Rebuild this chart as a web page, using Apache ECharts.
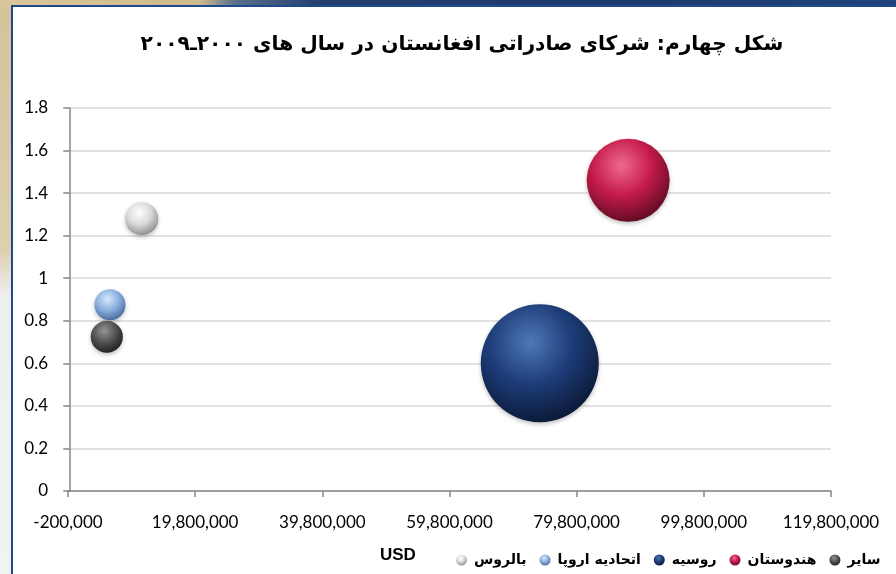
<!DOCTYPE html>
<html>
<head>
<meta charset="utf-8">
<script src="https://cdn.jsdelivr.net/npm/echarts@6/dist/echarts.min.js"></script>
<style>
  html, body { margin: 0; padding: 0; width: 896px; height: 574px; overflow: hidden; }
  body { position: relative; background: linear-gradient(to bottom, #d4c39b 0px, #ddd0ae 250px, #eeeeee 295px, #f2f2f2 100%); }
  #strip { position: absolute; left: 0; top: 0; width: 896px; height: 6px;
    background: linear-gradient(to right, #d9c79b 0px, #cdb98c 200px, #5a6f8c 235px, #233f70 320px, #1d3a6c 600px, #22427a 100%); }
  #box { position: absolute; left: 11px; top: 5px; width: 885px; height: 569px; background: #ffffff;
    border-left: 2px solid #1f4a8a; border-top: 2px solid #1f4a8a; box-sizing: border-box; }
  #chart { position: absolute; left: 0; top: 0; width: 896px; height: 574px; }
</style>
</head>
<body>
<div id="strip"></div>
<div id="box"></div>
<div id="chart"></div>
<script>
// ---- data ----
const titleText = 'شکل چهارم: شرکای صادراتی افغانستان در سال های ۲۰۰۰ـ۲۰۰۹';
const seriesNames = ['بالروس', 'اتحادیه اروپا', 'روسیه', 'هندوستان', 'سایر'];
const exportUSD = [11400000, 6400000, 74000000, 87900000, 5900000];
const yValues = [1.28, 0.875, 0.60, 1.46, 0.725];
const bubbleSizes = [7.8, 6.9, 100, 49.5, 7.4];
const xAxisTitle = 'USD';
const xMin = -200000, xMax = 119800000, xStep = 20000000;
const yMin = 0, yMax = 1.8, yStep = 0.2;

const palettes = [
  ['#ffffff', '#dadada', '#8a8a8a'],
  ['#d6e8fb', '#8cb2e0', '#44679a'],
  ['#4f78b8', '#1d3c78', '#0a1732'],
  ['#ee6a8d', '#c51b4b', '#5a0a20'],
  ['#959595', '#525252', '#1c1c1c']
];
function ball(p) {
  return new echarts.graphic.RadialGradient(0.42, 0.32, 0.72, [
    { offset: 0, color: p[0] },
    { offset: 0.5, color: p[1] },
    { offset: 1, color: p[2] }
  ]);
}
const MAXD = 118;

const chart = echarts.init(document.getElementById('chart'), null, { renderer: 'canvas' });
const arabicFont = "'DejaVu Sans', sans-serif";
const numFont = "Lato, 'Open Sans', sans-serif";

const series = seriesNames.map((name, i) => ({
  name: name,
  type: 'scatter',
  data: [[exportUSD[i], yValues[i], bubbleSizes[i]]],
  symbolSize: v => MAXD * Math.sqrt(v[2] / 100),
  itemStyle: { color: ball(palettes[i]), opacity: 1,
    shadowColor: 'rgba(0,0,0,0.25)', shadowBlur: 4, shadowOffsetY: 2 },
  z: i === 2 ? 2 : 3
}));

chart.setOption({
  animation: false,
  backgroundColor: 'transparent',
  title: {
    text: titleText,
    left: 457, textAlign: 'center',
    top: 30,
    textStyle: { fontFamily: arabicFont, fontWeight: 'bold', fontSize: 20.2, color: '#000' }
  },
  grid: { left: 68, right: 65, top: 108, bottom: 83, containLabel: false },
  xAxis: {
    type: 'value', min: xMin, max: xMax, interval: xStep,
    axisLine: { show: true, lineStyle: { color: '#868686', width: 1.5 } },
    axisTick: { show: true, length: 6, lineStyle: { color: '#868686', width: 1.5 } },
    splitLine: { show: false },
    axisLabel: { margin: 23, color: '#000', fontFamily: numFont, fontSize: 17 }
  },
  yAxis: {
    type: 'value', min: yMin, max: yMax, interval: yStep,
    axisLine: { show: true, lineStyle: { color: '#868686', width: 1.5 } },
    axisTick: { show: true, length: 6, lineStyle: { color: '#868686', width: 1.5 } },
    splitLine: { show: true, lineStyle: { color: '#d9d9d9', width: 1.5 } },
    axisLabel: { margin: 20, color: '#000', fontFamily: numFont, fontSize: 17,
      formatter: v => String(Math.round(v * 10) / 10) }
  },
  legend: {
    left: 451, top: 548,
    itemWidth: 11, itemHeight: 11, itemGap: 13,
    icon: 'circle',
    data: seriesNames,
    textStyle: { fontFamily: arabicFont, fontWeight: 'bold', fontSize: 14, color: '#000', padding: [0, 0, 0, 2] }
  },
  graphic: [{
    type: 'text', left: 380, top: 547,
    style: { text: xAxisTitle, fontFamily: "'Liberation Sans', Arial, sans-serif", fontWeight: 'bold', fontSize: 17, fill: '#000' }
  }],
  series: series
});
</script>
</body>
</html>
